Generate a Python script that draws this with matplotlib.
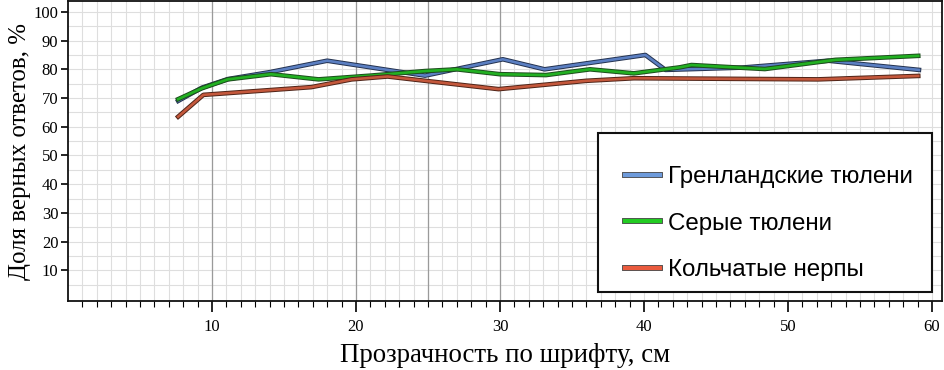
import matplotlib
matplotlib.use("Agg")
import matplotlib.pyplot as plt
import matplotlib.patheffects as pe
from matplotlib.patches import Rectangle
import numpy as np

# Data
x_green_seal = [7.65, 9.3, 11.1, 14.0, 18.0, 24.8, 30.2, 33.1, 40.1, 41.5, 46.8, 52.8, 59.1]
y_green_seal = [69.0, 73.6, 76.6, 79.0, 83.0, 77.8, 83.5, 80.0, 85.0, 79.8, 80.6, 83.0, 79.8]

x_grey_seal = [7.65, 9.3, 11.1, 14.1, 17.4, 21.0, 24.8, 27.0, 30.0, 33.2, 36.25, 39.3, 42.5, 43.3, 48.4, 53.3, 59.05]
y_grey_seal = [69.6, 73.4, 76.5, 78.3, 76.5, 77.8, 79.4, 80.0, 78.3, 78.0, 80.0, 78.6, 80.7, 81.5, 80.1, 83.3, 84.7]

x_ringed = [7.65, 9.4, 16.9, 19.7, 22.2, 24.8, 29.9, 36.0, 39.3, 52.1, 59.05]
y_ringed = [63.5, 71.1, 73.8, 76.5, 77.5, 76.0, 73.1, 76.0, 76.9, 76.5, 77.7]

labels = ["Гренландские тюлени", "Серые тюлени", "Кольчатые нерпы"]
x_ticks = [10, 20, 30, 40, 50, 60]
y_ticks = [10, 20, 30, 40, 50, 60, 70, 80, 90, 100]
dark_grid_x = [10, 20, 25, 30]

series = [
    (x_green_seal, y_green_seal, "#5b7fc2", "#24324f", "#6e9bdb"),
    (x_grey_seal, y_grey_seal, "#22b022", "#1d4d1d", "#22cc22"),
    (x_ringed, y_ringed, "#c4583c", "#4f2418", "#ea5b3e"),
]

serif = ["Liberation Serif", "DejaVu Serif"]
sans = ["Liberation Sans", "DejaVu Sans"]

W, H = 945, 370
fig = plt.figure(figsize=(W / 100, H / 100), dpi=100)
ax = fig.add_axes([68 / W, 1 - 301 / H, (942 - 68) / W, 300 / H])

ax.set_xlim(0, 60.7)
ax.set_ylim(-0.7, 103.8)

# grid
for xv in np.arange(1, 61, 1):
    ax.axvline(xv, color="#dedede", lw=0.8, zorder=0)
for yv in np.arange(5, 105, 5):
    ax.axhline(yv, color="#dedede", lw=0.8, zorder=0)
for xv in dark_grid_x:
    ax.axvline(xv, color="#9a9a9a", lw=0.9, zorder=0.5)

handles = []
for (xs, ys, inner, edge, leg), lab in zip(series, labels):
    ax.plot(xs, ys, color=inner, lw=1.9, zorder=3,
            path_effects=[pe.Stroke(linewidth=3.3, foreground=edge), pe.Normal()])
    h, = ax.plot([], [], color=leg, lw=3.0,
                 path_effects=[pe.Stroke(linewidth=4.2, foreground="#444444"), pe.Normal()],
                 label=lab)
    handles.append(h)

ax.set_xticks(x_ticks)
ax.set_xticks(np.arange(1, 61, 1), minor=True)
ax.set_yticks(y_ticks)
ax.tick_params(axis="x", which="major", direction="out", length=8, width=1.2, pad=5)
ax.tick_params(axis="x", which="minor", direction="out", length=4.5, width=0.8)
ax.tick_params(axis="y", which="major", direction="out", length=5, width=1.2, pad=2)
for lab in ax.get_xticklabels() + ax.get_yticklabels():
    lab.set_fontfamily(serif)
    lab.set_fontsize(12)

for s in ax.spines.values():
    s.set_linewidth(1.3)
    s.set_color("#111111")

ax.set_xlabel("Прозрачность по шрифту, см", fontfamily=serif, fontsize=19.4, labelpad=6)
ax.set_ylabel("Доля верных ответов, %", fontfamily=serif, fontsize=17.9, labelpad=2)

# legend frame
frame = Rectangle((598 / W, 1 - 292 / H), (932 - 598) / W, (292 - 133) / H,
                  transform=fig.transFigure, facecolor="white", edgecolor="#111111",
                  lw=1.5, zorder=4)
fig.add_artist(frame)

leg = fig.legend(handles=handles, loc="upper left", bbox_to_anchor=(625 / W, 1 - 166 / H),
                 prop={"family": sans, "size": 17.4}, frameon=False,
                 handlelength=1.45, handletextpad=0.33, labelspacing=1.02,
                 borderpad=0, borderaxespad=0)
leg.set_zorder(5)

fig.savefig("out.png", dpi=100)
